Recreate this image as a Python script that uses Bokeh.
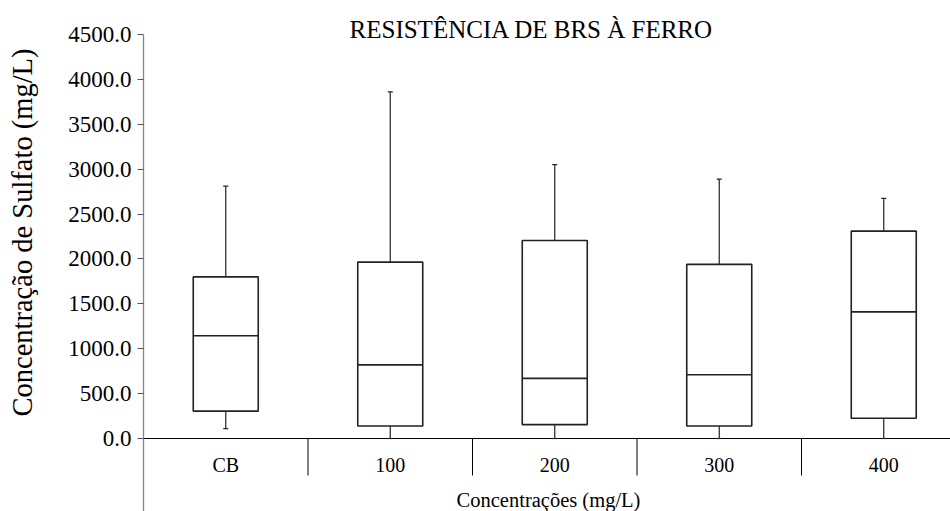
import math
from bokeh.plotting import figure
from bokeh.models import Range1d, FixedTicker, NumeralTickFormatter, Label, ColumnDataSource
from bokeh.core.properties import value
from bokeh.embed import file_html
from bokeh.resources import INLINE

# ---- data ----
categorias = ["CB", "100", "200", "300", "400"]
maximo = [2810, 3860, 3050, 2890, 2675]
q3 = [1800, 1965, 2205, 1940, 2310]
mediana = [1145, 820, 670, 710, 1410]
q1 = [305, 140, 155, 140, 225]
minimo = [110, 0, 0, 0, 0]
y_ticks = [0, 500, 1000, 1500, 2000, 2500, 3000, 3500, 4000, 4500]

FONT = "Liberation Serif"
W, H = 950, 511
AXIS_X = 143          # pixel column of the value axis
CAT_PX = 164.5        # pixel width of one category
PX_PER_VAL = 404.0 / 4500.0
ZERO_Y = 438          # pixel row of y=0 (from top)

y_top = ZERO_Y / PX_PER_VAL
y_bot = -(H - ZERO_Y) / PX_PER_VAL
x_start = -AXIS_X / CAT_PX
x_end = (W - AXIS_X) / CAT_PX

p = figure(width=W, height=H, output_backend="svg", toolbar_location=None,
           x_range=Range1d(x_start, x_end), y_range=Range1d(y_bot, y_top),
           x_axis_location=None, y_axis_location="left",
           min_border_left=0, min_border_right=0, min_border_top=0, min_border_bottom=0)
p.outline_line_color = None
p.grid.visible = False
p.background_fill_color = "white"
p.border_fill_color = "white"

ya = p.yaxis[0]
ya.fixed_location = 0
ya.ticker = FixedTicker(ticks=y_ticks)
ya.formatter = NumeralTickFormatter(format="0.0")
ya.bounds = (y_bot, 4500)
ya.axis_line_color = "#868686"
ya.axis_line_width = 1.3
ya.major_tick_line_color = "#555555"
ya.major_tick_out = 6
ya.major_tick_in = 0
ya.minor_tick_line_color = None
ya.major_label_standoff = 6
ya.major_label_text_font = "Times New Roman"
ya.major_label_text_font_size = "23px"
ya.major_label_text_color = "black"

# category axis line at zero
p.segment(x0=[0], y0=[0], x1=[x_end], y1=[0], line_color="black", line_width=1)

xc = [i + 0.5 for i in range(len(categorias))]
bw = 65 / CAT_PX
cw = 5 / CAT_PX
src = ColumnDataSource(dict(
    x=xc, left=[x - bw / 2 for x in xc], right=[x + bw / 2 for x in xc],
    cl=[x - cw / 2 for x in xc], cr=[x + cw / 2 for x in xc],
    maximo=maximo, q3=q3, mediana=mediana, q1=q1, minimo=minimo, cat=categorias))

# separators between categories
sep_x = [i for i in range(1, len(categorias))]
sep_len = 37 / PX_PER_VAL
p.segment(x0=sep_x, y0=[0] * len(sep_x), x1=sep_x, y1=[-sep_len] * len(sep_x),
          line_color="black", line_width=1)

# whiskers
p.segment(x0="x", y0="q3", x1="x", y1="maximo", source=src, line_color="#222222", line_width=1.2)
p.segment(x0="x", y0="q1", x1="x", y1="minimo", source=src, line_color="#222222", line_width=1.2)
p.segment(x0="cl", y0="maximo", x1="cr", y1="maximo", source=src, line_color="#222222", line_width=1.2)
p.segment(x0="cl", y0="minimo", x1="cr", y1="minimo", source=src, line_color="#222222", line_width=1.2)

# boxes
p.quad(left="left", right="right", bottom="q1", top="q3", source=src,
       fill_color="white", line_color="#222222", line_width=1.6)
p.segment(x0="left", y0="mediana", x1="right", y1="mediana", source=src,
          line_color="#222222", line_width=1.6)

# category labels
lab_y = -26 / PX_PER_VAL
p.text(x="x", y=lab_y, text="cat", source=src, text_align="center", text_baseline="middle",
       text_font=value(FONT), text_font_size="20px", text_color="black")

# titles
p.add_layout(Label(x=(548 - AXIS_X) / CAT_PX, y=(ZERO_Y - 499) / PX_PER_VAL,
                   text="Concentrações (mg/L)", text_align="center", text_baseline="middle",
                   text_font=FONT, text_font_size="20.5px", text_color="black"))
p.add_layout(Label(x=(531 - AXIS_X) / CAT_PX, y=(ZERO_Y - 29) / PX_PER_VAL,
                   text="RESISTÊNCIA DE BRS À FERRO", text_align="center", text_baseline="middle",
                   text_font=FONT, text_font_size="25px", text_color="black"))
p.add_layout(Label(x=(22 - AXIS_X) / CAT_PX, y=(ZERO_Y - 232) / PX_PER_VAL,
                   text="Concentração de Sulfato (mg/L)", text_align="center", text_baseline="middle",
                   angle=math.pi / 2, text_font=FONT, text_font_size="28.5px", text_color="black"))

open("out.html", "w").write(file_html(p, INLINE))
